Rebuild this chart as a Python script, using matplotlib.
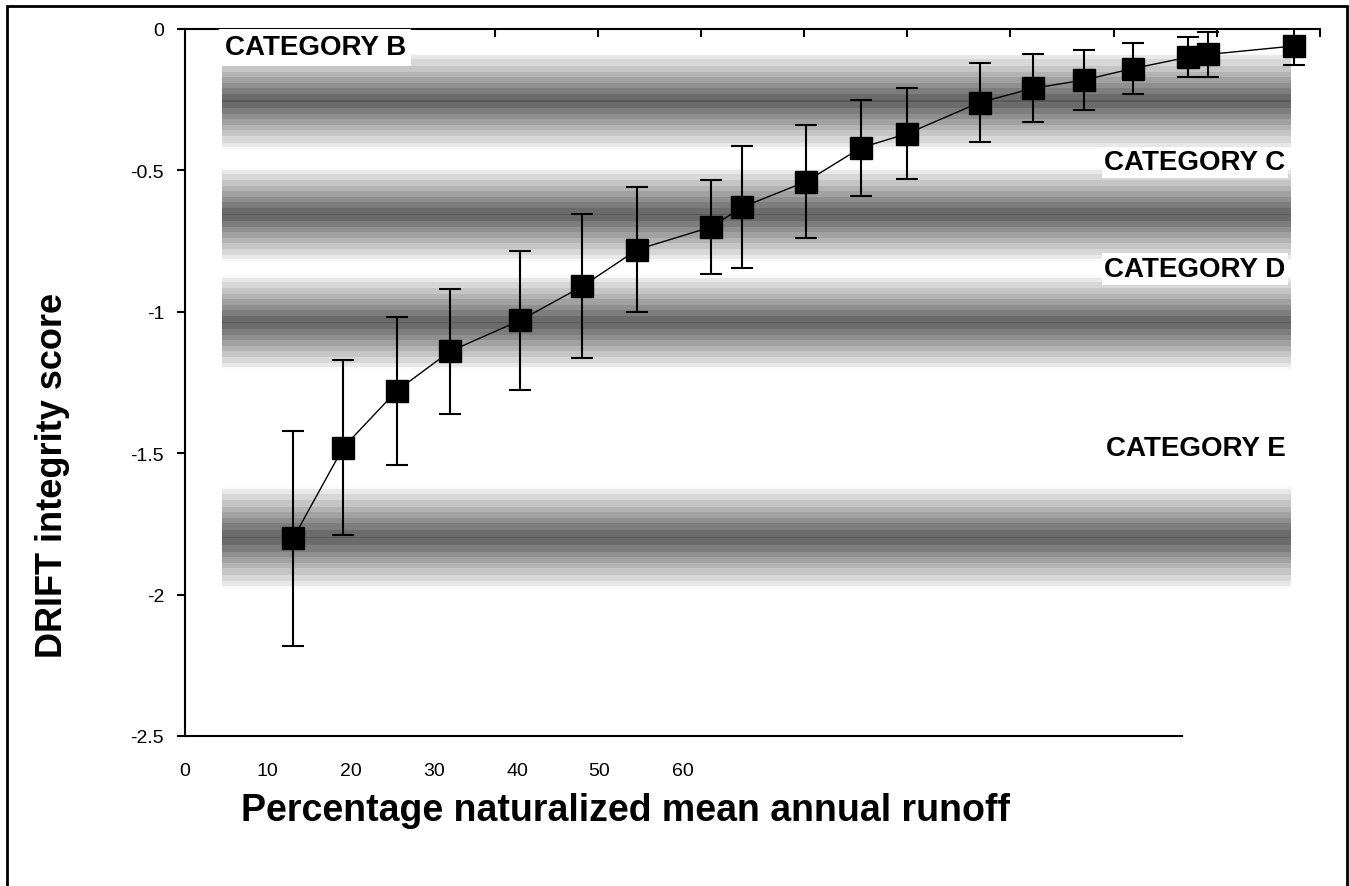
import numpy as np
import matplotlib
matplotlib.use("Agg")
import matplotlib.pyplot as plt
from matplotlib.patches import Rectangle

plt.rcParams['font.family'] = ['Liberation Sans', 'DejaVu Sans']

# data
runoff = [6.3, 9.2, 12.3, 15.4, 19.5, 23.1, 26.3, 30.6, 32.4, 36.1, 39.3, 42.0,
          46.2, 49.3, 52.3, 55.1, 58.3, 59.5, 64.5]
score = [-1.80, -1.48, -1.28, -1.14, -1.03, -0.91, -0.78, -0.70, -0.63, -0.54,
         -0.42, -0.37, -0.26, -0.21, -0.18, -0.14, -0.10, -0.09, -0.06]
score_err = [0.38, 0.31, 0.26, 0.22, 0.245, 0.255, 0.22, 0.165, 0.215, 0.20,
             0.17, 0.16, 0.14, 0.12, 0.105, 0.09, 0.07, 0.08, 0.067]

# shaded category bands (centre of each band)
band_names = ['CATEGORY B', 'CATEGORY C', 'CATEGORY D', 'CATEGORY E']
band_centres = [-0.256, -0.658, -1.04, -1.80]
band_half = [0.168, 0.163, 0.163, 0.177]

# tick labels as they appear on the chart
xlabels_bottom = ['0', '10', '20', '30', '40', '50', '60']
xlabel_pos = [0, 4.77, 9.65, 14.48, 19.31, 24.07, 28.96]
top_ticks = np.arange(0, 67, 6)
yticks = [0, -0.5, -1, -1.5, -2, -2.5]
ylabels = ['0', '-0.5', '-1', '-1.5', '-2', '-2.5']

fig = plt.figure(figsize=(13.49, 8.87), dpi=100)
ax = fig.add_axes([185/1349, 1 - 737/887, 1135/1349, 707/887])

# gradient bands
t = np.linspace(-1, 1, 61)
prof = 0.37 + 0.58 * np.abs(t)
prof = np.round(prof / 0.07) * 0.07
grad = prof.reshape(-1, 1)
for c, h in zip(band_centres, band_half):
    ax.imshow(grad, extent=[2.15, 64.3, c - h, c + h], cmap='gray',
              vmin=0, vmax=1, aspect='auto', interpolation='nearest', zorder=0)

ax.plot(runoff, score, color='black', lw=1, zorder=3)
ax.errorbar(runoff, score, yerr=score_err, fmt='none', ecolor='black',
            elinewidth=1.5, capsize=8, capthick=1.5, zorder=3)
ax.plot(runoff, score, 's', color='black', markersize=15.5, zorder=4)

# category labels
box = dict(facecolor='white', edgecolor='none', pad=2)
ax.text(2.3, -0.064, band_names[0], fontsize=20, fontweight='bold', va='center',
        ha='left', bbox=dict(facecolor='white', edgecolor='none', pad=4), zorder=6, clip_on=False)
ax.text(64.0, -0.472, band_names[1], fontsize=20, fontweight='bold', va='center',
        ha='right', bbox=box, zorder=6)
ax.text(64.0, -0.849, band_names[2], fontsize=20, fontweight='bold', va='center',
        ha='right', bbox=box, zorder=6)
ax.text(64.0, -1.48, band_names[3], fontsize=20, fontweight='bold', va='center',
        ha='right', zorder=6)

ax.set_xlim(0, 66)
ax.set_ylim(-2.5, 0)

ax.set_xticks(xlabel_pos, xlabels_bottom)
ax.set_xticks(top_ticks, minor=True)
ax.tick_params(axis='x', which='major', bottom=True, top=False, length=0,
               pad=19, labelsize=14)
ax.tick_params(axis='x', which='minor', bottom=False, top=True, direction='in',
               length=6, width=1.5)
ax.set_yticks(yticks, ylabels)
ax.tick_params(axis='y', which='major', direction='out', length=6, width=1.5,
               pad=9, labelsize=14)

ax.spines['right'].set_visible(False)
ax.spines['bottom'].set_bounds(0, 58.0)
for s in ['left', 'bottom', 'top']:
    ax.spines[s].set_linewidth(1.5)

ax.set_xlabel('Percentage naturalized mean annual runoff', fontsize=27, fontweight='bold')
ax.xaxis.set_label_coords(0.388, -0.079)
ax.set_ylabel('DRIFT integrity score', fontsize=26, fontweight='bold')
ax.yaxis.set_label_coords(-0.101, 0.37)

# outer frame
fig.patches.append(Rectangle((7/1349, -0.01), 1340/1349, 0.9921 + 0.01, fill=False,
                             lw=2, edgecolor='black', transform=fig.transFigure))

fig.savefig('out.png', dpi=100)
